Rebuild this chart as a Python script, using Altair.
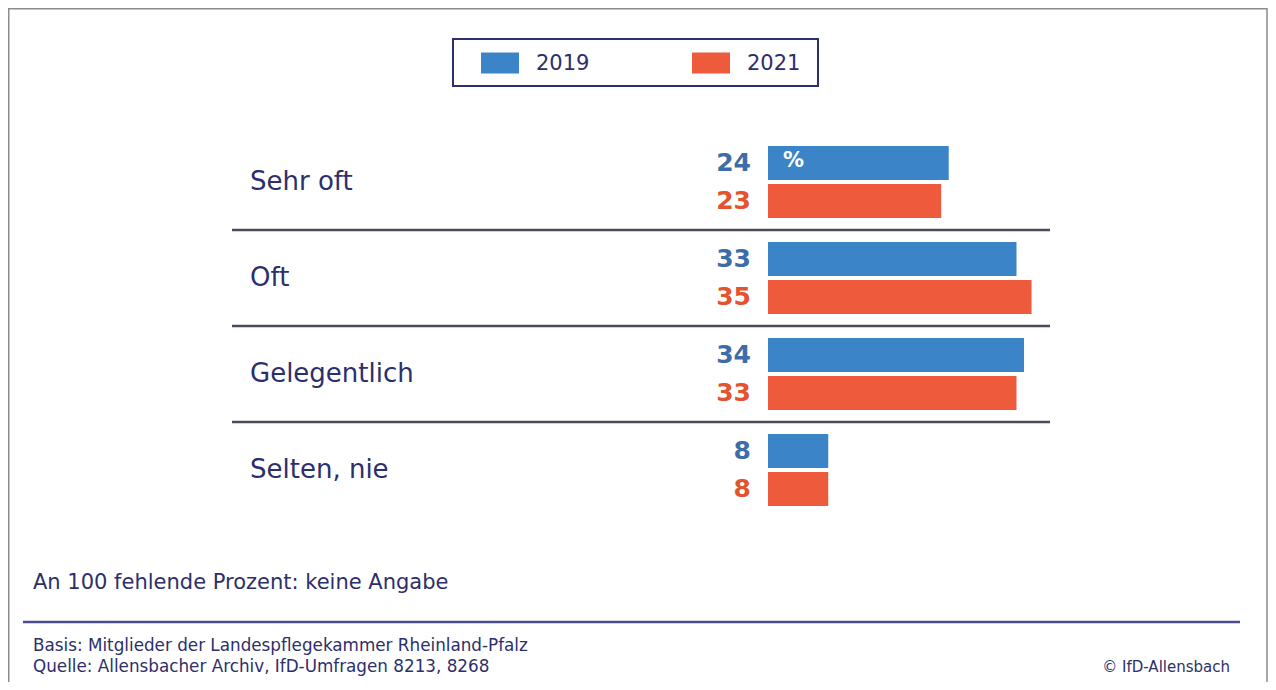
import altair as alt
import pandas as pd

categories = ["Sehr oft", "Oft", "Gelegentlich", "Selten, nie"]
years = ["2019", "2021"]
values_2019 = [24, 33, 34, 8]
values_2021 = [23, 35, 33, 8]
bar_colors = ["#3b84c7", "#ee5b3c"]
label_colors = ["#3d6da8", "#e3532f"]
navy = "#2c2f6b"
note = "An 100 fehlende Prozent: keine Angabe"
basis = "Basis: Mitglieder der Landespflegekammer Rheinland-Pfalz"
quelle = "Quelle: Allensbacher Archiv, IfD-Umfragen 8213, 8268"
copyright_text = "© IfD-Allensbach"
unit_text = "%"

rows = []
for c, a, b in zip(categories, values_2019, values_2021):
    rows.append({"cat": c, "year": years[0], "value": a})
    rows.append({"cat": c, "year": years[1], "value": b})
df = pd.DataFrame(rows)
cat_df = pd.DataFrame({"cat": categories})
year_df = pd.DataFrame({"year": years})
one = alt.Data(values=[{}])

FONT = "DejaVu Sans"

xs = alt.Scale(domain=[0, 60], range=[760, 760 + 60 * 7.53])
ys = alt.Scale(domain=categories, range=[126, 510], paddingInner=0, paddingOuter=0)
yo = alt.Scale(domain=years, paddingInner=0.105, paddingOuter=0.316)

Y = alt.Y("cat:N", scale=ys, axis=None, sort=categories)
YO = alt.YOffset("year:N", scale=yo, sort=years)

frame = alt.Chart(one).mark_rect(filled=False, stroke="#8c8c8c", strokeWidth=1.5).encode(
    x=alt.value(0.75), x2=alt.value(1259), y=alt.value(0.75), y2=alt.value(760)
)

bars = alt.Chart(df).mark_bar().encode(
    x=alt.X("value:Q", scale=xs, axis=None),
    y=Y,
    yOffset=YO,
    color=alt.Color("year:N", scale=alt.Scale(domain=years, range=bar_colors), legend=None),
)

vals = alt.Chart(df).mark_text(
    align="right", baseline="middle", dx=-17, fontSize=25, fontWeight="bold", font=FONT
).encode(
    x=alt.X(datum=0, scale=xs, axis=None),
    y=Y,
    yOffset=YO,
    text=alt.Text("value:Q"),
    color=alt.Color("year:N", scale=alt.Scale(domain=years, range=label_colors), legend=None),
)

pct = alt.Chart(df).transform_filter(
    (alt.datum.cat == categories[0]) & (alt.datum.year == years[0])
).mark_text(
    align="left", baseline="middle", dx=15, dy=-2, fontSize=21, fontWeight="bold", font=FONT, color="white"
).encode(
    x=alt.X(datum=0, scale=xs, axis=None),
    y=Y,
    yOffset=YO,
    text=alt.value(unit_text),
)

cat_labels = alt.Chart(cat_df).mark_text(
    align="left", baseline="middle", fontSize=26, font=FONT, color=navy
).encode(
    x=alt.value(242),
    y=Y,
    text="cat:N",
)

seps = alt.Chart(cat_df).transform_filter(
    alt.datum.cat != categories[0]
).mark_rule(color="#4a4a5c", strokeWidth=2.5).encode(
    x=alt.value(224), x2=alt.value(1042),
    y=alt.Y("cat:N", scale=ys, axis=None, sort=categories, bandPosition=0),
)

legend_box = alt.Chart(one).mark_rect(filled=False, stroke=navy, strokeWidth=2).encode(
    x=alt.value(445), x2=alt.value(810), y=alt.value(31), y2=alt.value(78)
)

lx = alt.Scale(type="point", domain=years, range=[492, 703], padding=0)
legend_sw = alt.Chart(year_df).mark_point(
    shape="M-1,-0.55H1V0.55H-1Z", size=1444, filled=True, opacity=1, strokeWidth=0
).encode(
    x=alt.X("year:N", scale=lx, axis=None),
    y=alt.value(55),
    color=alt.Color("year:N", scale=alt.Scale(domain=years, range=bar_colors), legend=None),
)
legend_lab = alt.Chart(year_df).mark_text(
    align="left", baseline="middle", dx=36, fontSize=21, font=FONT, color=navy
).encode(
    x=alt.X("year:N", scale=lx, axis=None),
    y=alt.value(56),
    text="year:N",
)

note_t = alt.Chart(one).mark_text(align="left", baseline="middle", fontSize=21, font=FONT, color=navy).encode(
    x=alt.value(25), y=alt.value(575), text=alt.value(note)
)
foot_line = alt.Chart(one).mark_rule(color="#4b4b8f", strokeWidth=2.5).encode(
    x=alt.value(15), x2=alt.value(1232), y=alt.value(614)
)
basis_t = alt.Chart(one).mark_text(align="left", baseline="middle", fontSize=16.8, font=FONT, color=navy).encode(
    x=alt.value(25), y=alt.value(638), text=alt.value(basis)
)
quelle_t = alt.Chart(one).mark_text(align="left", baseline="middle", fontSize=16.8, font=FONT, color=navy).encode(
    x=alt.value(25), y=alt.value(659), text=alt.value(quelle)
)
copy_t = alt.Chart(one).mark_text(align="right", baseline="middle", fontSize=15, font=FONT, color=navy).encode(
    x=alt.value(1222), y=alt.value(659), text=alt.value(copyright_text)
)

chart = alt.layer(
    frame, seps, bars, vals, pct, cat_labels, legend_box, legend_sw, legend_lab,
    note_t, foot_line, basis_t, quelle_t, copy_t
).resolve_scale(
    x="independent", color="independent"
).properties(
    width=1260, height=674, autosize=alt.AutoSizeParams(type="none"), padding=0, background="white"
).configure_view(stroke=None)

chart.save("out.html", embed_options={"renderer": "svg", "actions": False})
